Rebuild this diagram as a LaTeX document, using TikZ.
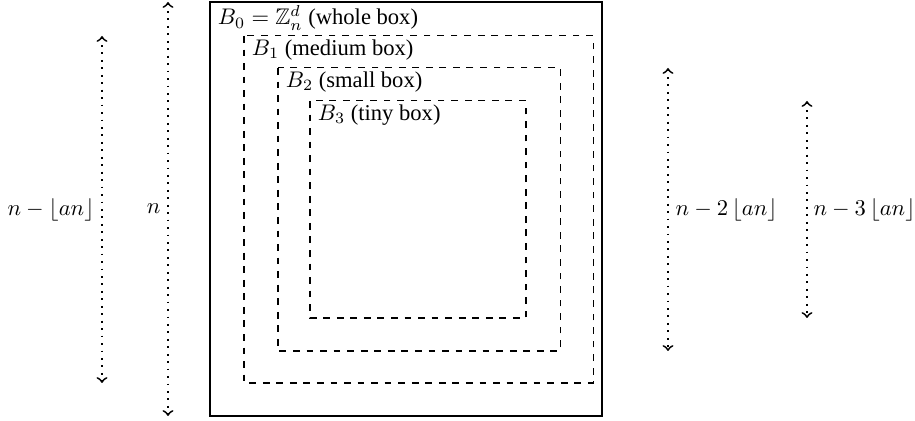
\documentclass[tikz,border=0pt]{standalone}
\usepackage{amsmath}
\usepackage{amssymb}
\usepackage{fontspec}
\setmainfont{Liberation Serif}
\usetikzlibrary{arrows}
\tikzset{
    whole_box/.style = {draw=black, thick},
    part_box/.style = {draw=black, dashed, line width=0.45pt},
    box_label/.style = {anchor=north west, inner ysep=1.5pt},
    side_arrow/.style = {<->, >=to, line width=0.8pt, dash pattern=on 0.8pt off 2.5pt},
    side_label/.style = {inner sep=3pt}
}

\begin{document}
\begin{tikzpicture}
    [x=0.4429pt, y=-0.4429pt]
    \useasboundingbox (0,0) rectangle (915,421);

    % boxes
    \coordinate (b0tl) at (210,2);   \coordinate (b0br) at (602,416);
    \coordinate (b1tl) at (244,36);  \coordinate (b1br) at (593,383);
    \coordinate (b2tl) at (278,68);  \coordinate (b2br) at (560,351);
    \coordinate (b3tl) at (310,101); \coordinate (b3br) at (526,318);

    \draw [whole_box] (b0tl) rectangle (b0br);
    \draw [part_box] (b1tl) rectangle (b1br);
    \draw [part_box] (b2tl) rectangle (b2br);
    \draw [part_box] (b3tl) rectangle (b3br);

    \node [box_label] (l0) at (b0tl) {$B_0=\mathbb{Z}_n^d$ (whole box)};
    \node [box_label] (l1) at (b1tl) {$B_1$ (medium box)};
    \node [box_label] (l2) at (b2tl) {$B_2$ (small box)};
    \node [box_label] (l3) at (b3tl) {$B_3$ (tiny box)};

    % side lengths
    \coordinate (a1t) at (102,36);  \coordinate (a1b) at (102,383);
    \coordinate (a0t) at (168,2);   \coordinate (a0b) at (168,416);
    \coordinate (a2t) at (668,68);  \coordinate (a2b) at (668,351);
    \coordinate (a3t) at (807,101); \coordinate (a3b) at (807,318);

    \draw [side_arrow] (a1t) -- node [side_label, left] (s1) {$n-\left\lfloor an\right\rfloor$} (a1b);
    \draw [side_arrow] (a0t) -- node [side_label, left] (s0) {$n$} (a0b);
    \draw [side_arrow] (a2t) -- node [side_label, right] (s2) {$n-2\left\lfloor an\right\rfloor$} (a2b);
    \draw [side_arrow] (a3t) -- node [side_label, right, inner xsep=2.5pt] (s3) {$n-3\left\lfloor an\right\rfloor$} (a3b);
\end{tikzpicture}
\end{document}
